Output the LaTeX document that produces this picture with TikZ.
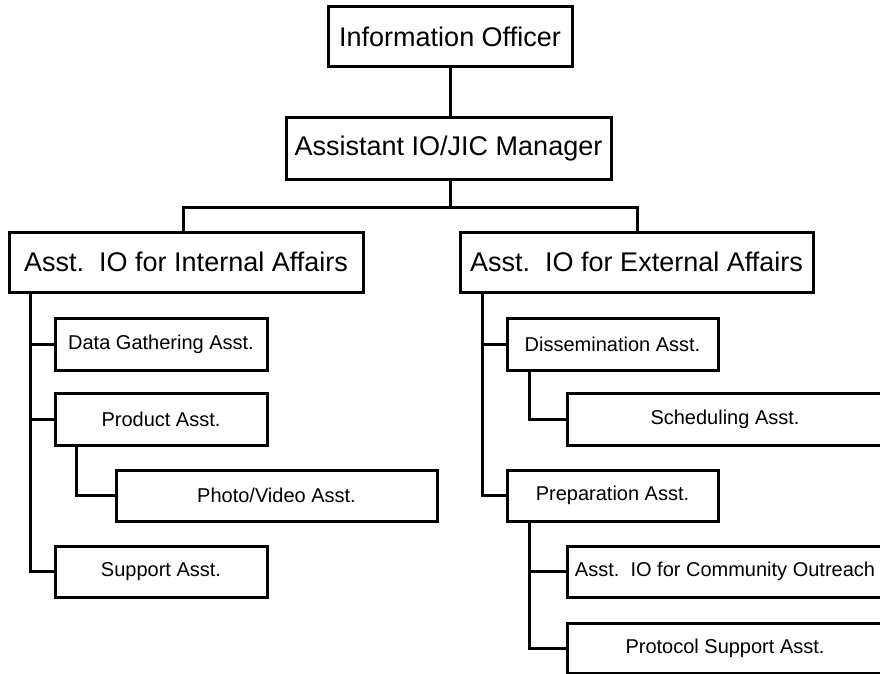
\documentclass[tikz,border=0pt]{standalone}
\usepackage{fontspec}
\setmainfont{Liberation Sans}
\begin{document}
\begin{tikzpicture}[x=1pt,y=-1pt,
  box/.style={draw=black,line width=3pt,fill=white,inner sep=0pt,anchor=center},
  big/.style={box,font=\fontsize{27}{30}\selectfont},
  small/.style={box,font=\fontsize{20}{23}\selectfont},
  conn/.style={draw=black,line width=3pt}]
\useasboundingbox (0,0) rectangle (880,674);
\clip (0,0) rectangle (880,674);
% nodes
\node[big,minimum width=244pt,minimum height=60pt] (io) at (450,37) {Information Officer};
\node[big,minimum width=325pt,minimum height=61pt] (aio) at (448.5,148.5) {Assistant IO/JIC Manager};
\node[big,minimum width=354pt,minimum height=60pt] (int) at (186,262) {Asst.\ \ IO for Internal Affairs};
\node[big,minimum width=353pt,minimum height=60pt] (ext) at (636.5,262) {Asst.\ \ IO for External Affairs};
\node[small,minimum width=212pt,minimum height=52pt] (dga) at (161,344) {Data Gathering Asst.};
\node[small,minimum width=212pt,minimum height=52pt] (pa) at (161,419) {Product Asst.};
\node[small,minimum width=321pt,minimum height=51pt] (pva) at (276.5,495.5) {Photo/Video Asst.};
\node[small,minimum width=212pt,minimum height=51pt] (sa) at (161,571.5) {Support Asst.};
\node[small,minimum width=211pt,minimum height=52pt] (dis) at (612.5,344) {Dissemination Asst.};
\node[small,minimum width=316pt,minimum height=52pt] (sch) at (725,419) {Scheduling Asst.};
\node[small,minimum width=211pt,minimum height=51pt] (prep) at (612.5,495.5) {Preparation Asst.};
\node[small,minimum width=316pt,minimum height=51pt] (cor) at (725,571.5) {Asst.\ \ IO for Community Outreach};
\node[small,minimum width=316pt,minimum height=50pt] (psa) at (725,648) {Protocol Support Asst.};
% helper coordinates
\coordinate (bar) at (450,207);
\coordinate (bl) at (183,207);
\coordinate (br) at (637,207);
\coordinate (tL) at (30,0);
\coordinate (tP) at (76,0);
\coordinate (tR) at (482,0);
\coordinate (tD) at (529,0);
% connectors
\draw[conn] (io.south) -- (io.south |- aio.north);
\draw[conn] (aio.south -| bar) -- (bar);
\draw[conn] (bl |- int.north) -- (bl) -- (br) -- (br |- ext.north);
\draw[conn] (int.south -| tL) |- (sa.west);
\draw[conn] (tL |- dga.west) -- (dga.west);
\draw[conn] (tL |- pa.west) -- (pa.west);
\draw[conn] (pa.south -| tP) |- (pva.west);
\draw[conn] (ext.south -| tR) |- (prep.west);
\draw[conn] (tR |- dis.west) -- (dis.west);
\draw[conn] (dis.south -| tD) |- (sch.west);
\draw[conn] (prep.south -| tD) |- (psa.west);
\draw[conn] (tD |- cor.west) -- (cor.west);
\end{tikzpicture}
\end{document}
